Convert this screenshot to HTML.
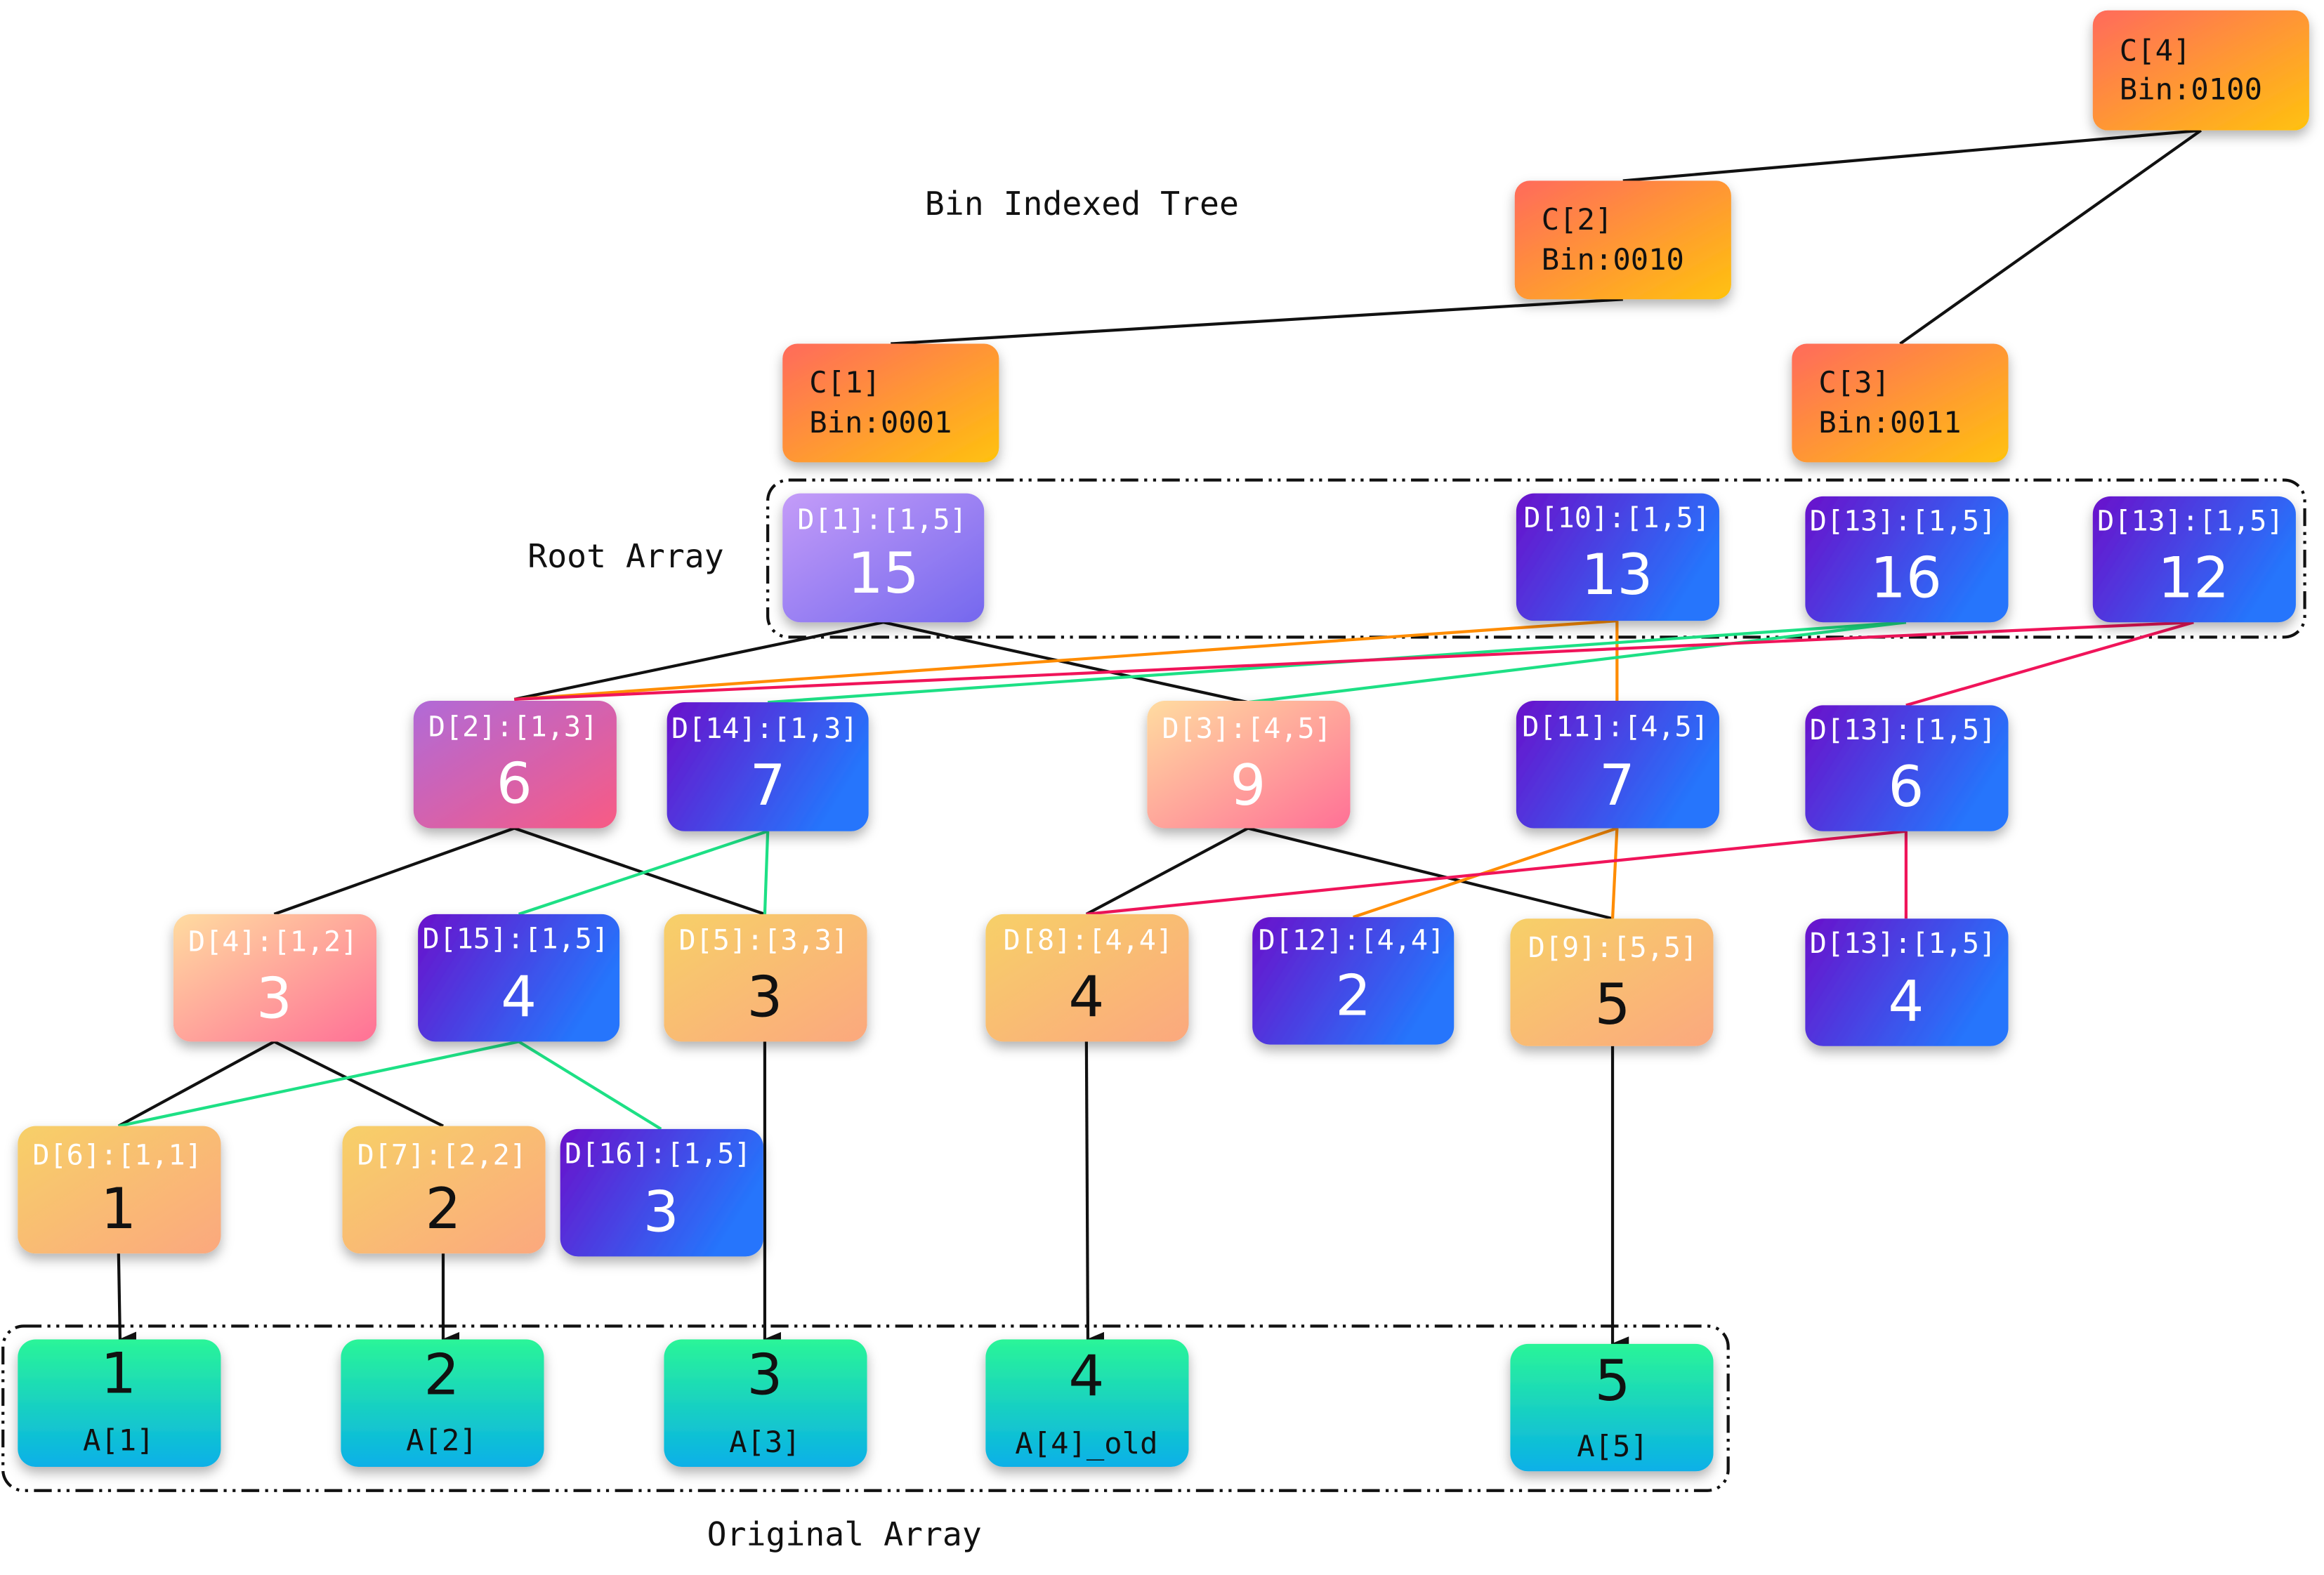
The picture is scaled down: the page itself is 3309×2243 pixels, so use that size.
<!DOCTYPE html>
<html><head><meta charset="utf-8"><style>
html,body{margin:0;padding:0;background:#fff}
svg{display:block}
.lb{font-family:"DejaVu Sans Mono","Liberation Mono",monospace;font-size:19px;fill:#fff}
.vl{font-family:"DejaVu Sans","Liberation Sans",sans-serif;font-size:38px;fill:#fff;text-anchor:middle}
.ct{font-family:"DejaVu Sans Mono","Liberation Mono",monospace;font-size:20px;fill:#111}
.tx{font-family:"DejaVu Sans Mono","Liberation Mono",monospace;font-size:22px;fill:#111}
</style></head><body>
<svg width="3309" height="2243" viewBox="0 0 1568 1063" preserveAspectRatio="none" xmlns="http://www.w3.org/2000/svg">
<defs>
<linearGradient id="gc" x1="0" y1="0" x2="1" y2="1"><stop offset="0" stop-color="#ff6a5c"/><stop offset="1" stop-color="#ffc20e"/></linearGradient>
<linearGradient id="gp" x1="0" y1="0" x2="1" y2="1"><stop offset="0" stop-color="#c49cf8"/><stop offset="1" stop-color="#7468ee"/></linearGradient>
<linearGradient id="gb" x1="0" y1="0" x2="1" y2="0.4"><stop offset="0" stop-color="#6a11cb"/><stop offset="1" stop-color="#2575fc"/></linearGradient>
<linearGradient id="gpk" x1="0" y1="0" x2="1" y2="1"><stop offset="0" stop-color="#b06ad8"/><stop offset="1" stop-color="#f85a84"/></linearGradient>
<linearGradient id="gpe" x1="0" y1="0" x2="1" y2="1"><stop offset="0" stop-color="#ffdca0"/><stop offset="1" stop-color="#ff7096"/></linearGradient>
<linearGradient id="go" x1="0" y1="0" x2="1" y2="1"><stop offset="0" stop-color="#f7d068"/><stop offset="1" stop-color="#fba87e"/></linearGradient>
<linearGradient id="gg" x1="0" y1="0" x2="0" y2="1"><stop offset="0" stop-color="#2af598"/><stop offset="1" stop-color="#08b0e8"/></linearGradient>
<filter id="sh" x="-20%" y="-20%" width="140%" height="150%"><feDropShadow dx="0" dy="4" stdDeviation="4" flood-color="#000" flood-opacity="0.3"/></filter>
<marker id="ar" markerWidth="10" markerHeight="12" refX="5" refY="11" orient="auto" markerUnits="userSpaceOnUse"><path d="M0,0 L10,0 L5,12 z" fill="#111" transform="rotate(-90 5 6) rotate(90 5 6)"/></marker>
</defs>

<!-- dashed groups -->
<rect x="518" y="324" width="1037" height="106" rx="14" fill="none" stroke="#111" stroke-width="2" stroke-dasharray="12,4,2,4,2,4"/>
<rect x="2" y="895" width="1164" height="111" rx="14" fill="none" stroke="#111" stroke-width="2" stroke-dasharray="12,4,2,4,2,4"/>

<!-- lines -->
<g stroke="#111" stroke-width="2" fill="none">
<line x1="1485" y1="88" x2="1095" y2="122"/>
<line x1="1485" y1="88" x2="1282" y2="232"/>
<line x1="1095" y1="202" x2="601" y2="232"/>
<line x1="596" y1="420" x2="347" y2="472"/>
<line x1="596" y1="420" x2="842" y2="474"/>
<line x1="347" y1="559" x2="185" y2="617"/>
<line x1="347" y1="559" x2="516" y2="617"/>
<line x1="842" y1="559" x2="733" y2="617"/>
<line x1="842" y1="559" x2="1088" y2="620"/>
<line x1="185" y1="703" x2="80" y2="760"/>
<line x1="185" y1="703" x2="299" y2="760"/>
</g>
<g stroke="#111" stroke-width="2" fill="none" marker-end="url(#ar)">
<line x1="516" y1="703" x2="516" y2="904"/>
<line x1="733" y1="703" x2="734" y2="904"/>
<line x1="1088" y1="706" x2="1088" y2="907"/>
<line x1="80" y1="846" x2="81" y2="904"/>
<line x1="299" y1="846" x2="299" y2="904"/>
</g>
<g stroke="#ff8c00" stroke-width="2" fill="none">
<line x1="1091" y1="419" x2="347" y2="472"/>
<line x1="1091" y1="419" x2="1091" y2="474"/>
<line x1="1091" y1="559" x2="913" y2="619"/>
<line x1="1091" y1="559" x2="1088" y2="620"/>
</g>
<g stroke="#1de085" stroke-width="2" fill="none">
<line x1="1286" y1="420" x2="518" y2="474"/>
<line x1="1286" y1="420" x2="842" y2="474"/>
<line x1="518" y1="561" x2="350" y2="617"/>
<line x1="518" y1="561" x2="516" y2="617"/>
<line x1="350" y1="703" x2="80" y2="760"/>
<line x1="350" y1="703" x2="446" y2="762"/>
</g>
<g stroke="#f0145a" stroke-width="2" fill="none">
<line x1="1480" y1="420" x2="347" y2="472"/>
<line x1="1480" y1="420" x2="1286" y2="476"/>
<line x1="1286" y1="561" x2="733" y2="617"/>
<line x1="1286" y1="561" x2="1286" y2="620"/>
</g>

<!-- C nodes -->
<g filter="url(#sh)">
<rect x="1412" y="7" width="146" height="81" rx="10" fill="url(#gc)"/>
<rect x="1022" y="122" width="146" height="80" rx="10" fill="url(#gc)"/>
<rect x="528" y="232" width="146" height="80" rx="10" fill="url(#gc)"/>
<rect x="1209" y="232" width="146" height="80" rx="10" fill="url(#gc)"/>
</g>
<text class="ct" x="1430" y="41">C[4]</text><text class="ct" x="1430" y="67">Bin:0100</text>
<text class="ct" x="1040" y="155">C[2]</text><text class="ct" x="1040" y="182">Bin:0010</text>
<text class="ct" x="546" y="265">C[1]</text><text class="ct" x="546" y="292">Bin:0001</text>
<text class="ct" x="1227" y="265">C[3]</text><text class="ct" x="1227" y="292">Bin:0011</text>

<text class="tx" x="624" y="145">Bin Indexed Tree</text>
<text class="tx" x="356" y="383">Root Array</text>
<text class="tx" x="477" y="1043">Original Array</text>

<!-- D nodes -->
<g filter="url(#sh)">
<rect x="528" y="333" width="136" height="87" rx="12" fill="url(#gp)"/>
<rect x="1023" y="333" width="137" height="86" rx="12" fill="url(#gb)"/>
<rect x="1218" y="335" width="137" height="85" rx="12" fill="url(#gb)"/>
<rect x="1412" y="335" width="137" height="85" rx="12" fill="url(#gb)"/>
<rect x="279" y="473" width="137" height="86" rx="12" fill="url(#gpk)"/>
<rect x="450" y="474" width="136" height="87" rx="12" fill="url(#gb)"/>
<rect x="774" y="473" width="137" height="86" rx="12" fill="url(#gpe)"/>
<rect x="1023" y="473" width="137" height="86" rx="12" fill="url(#gb)"/>
<rect x="1218" y="476" width="137" height="85" rx="12" fill="url(#gb)"/>
<rect x="117" y="617" width="137" height="86" rx="12" fill="url(#gpe)"/>
<rect x="282" y="617" width="136" height="86" rx="12" fill="url(#gb)"/>
<rect x="448" y="617" width="137" height="86" rx="12" fill="url(#go)"/>
<rect x="665" y="617" width="137" height="86" rx="12" fill="url(#go)"/>
<rect x="845" y="619" width="136" height="86" rx="12" fill="url(#gb)"/>
<rect x="1019" y="620" width="137" height="86" rx="12" fill="url(#go)"/>
<rect x="1218" y="620" width="137" height="86" rx="12" fill="url(#gb)"/>
<rect x="12" y="760" width="137" height="86" rx="12" fill="url(#go)"/>
<rect x="231" y="760" width="137" height="86" rx="12" fill="url(#go)"/>
<rect x="378" y="762" width="137" height="86" rx="12" fill="url(#gb)"/>
<rect x="12" y="904" width="137" height="86" rx="12" fill="url(#gg)"/>
<rect x="230" y="904" width="137" height="86" rx="12" fill="url(#gg)"/>
<rect x="448" y="904" width="137" height="86" rx="12" fill="url(#gg)"/>
<rect x="665" y="904" width="137" height="86" rx="12" fill="url(#gg)"/>
<rect x="1019" y="907" width="137" height="86" rx="12" fill="url(#gg)"/>
</g>

<text class="lb" x="538" y="357">D[1]:[1,5]</text><text class="vl" x="596" y="400">15</text>
<text class="lb" x="1028" y="356">D[10]:[1,5]</text><text class="vl" x="1091" y="401">13</text>
<text class="lb" x="1221" y="358">D[13]:[1,5]</text><text class="vl" x="1286" y="403">16</text>
<text class="lb" x="1415" y="358">D[13]:[1,5]</text><text class="vl" x="1480" y="403">12</text>
<text class="lb" x="289" y="497">D[2]:[1,3]</text><text class="vl" x="347" y="542">6</text>
<text class="lb" x="453" y="498">D[14]:[1,3]</text><text class="vl" x="518" y="543">7</text>
<text class="lb" x="784" y="498">D[3]:[4,5]</text><text class="vl" x="842" y="543">9</text>
<text class="lb" x="1027" y="497">D[11]:[4,5]</text><text class="vl" x="1091" y="543">7</text>
<text class="lb" x="1221" y="499">D[13]:[1,5]</text><text class="vl" x="1286" y="544">6</text>
<text class="lb" x="127" y="642">D[4]:[1,2]</text><text class="vl" x="185" y="687">3</text>
<text class="lb" x="285" y="640">D[15]:[1,5]</text><text class="vl" x="350" y="686">4</text>
<text class="lb" x="458" y="641">D[5]:[3,3]</text><text class="vl" x="516" y="686" style="fill:#111">3</text>
<text class="lb" x="677" y="641">D[8]:[4,4]</text><text class="vl" x="733" y="686" style="fill:#111">4</text>
<text class="lb" x="849" y="641">D[12]:[4,4]</text><text class="vl" x="913" y="685">2</text>
<text class="lb" x="1031" y="646">D[9]:[5,5]</text><text class="vl" x="1088" y="691" style="fill:#111">5</text>
<text class="lb" x="1221" y="643">D[13]:[1,5]</text><text class="vl" x="1286" y="689">4</text>
<text class="lb" x="22" y="786">D[6]:[1,1]</text><text class="vl" x="80" y="829" style="fill:#111">1</text>
<text class="lb" x="241" y="786">D[7]:[2,2]</text><text class="vl" x="299" y="829" style="fill:#111">2</text>
<text class="lb" x="381" y="785">D[16]:[1,5]</text><text class="vl" x="446" y="831">3</text>

<text class="vl" x="80" y="940" style="fill:#111">1</text><text class="ct" x="80" y="979" text-anchor="middle">A[1]</text>
<text class="vl" x="298" y="941" style="fill:#111">2</text><text class="ct" x="298" y="979" text-anchor="middle">A[2]</text>
<text class="vl" x="516" y="941" style="fill:#111">3</text><text class="ct" x="516" y="980" text-anchor="middle">A[3]</text>
<text class="vl" x="733" y="942" style="fill:#111">4</text><text class="ct" x="733" y="981" text-anchor="middle">A[4]_old</text>
<text class="vl" x="1088" y="945" style="fill:#111">5</text><text class="ct" x="1088" y="983" text-anchor="middle">A[5]</text>
</svg>
</body></html>
